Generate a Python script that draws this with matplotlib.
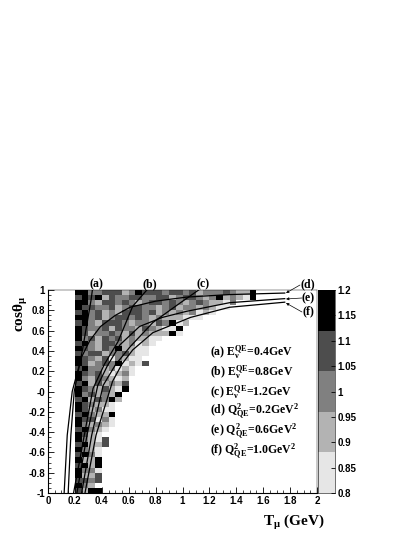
import matplotlib
matplotlib.use('Agg')
import matplotlib.pyplot as plt
from matplotlib.colors import ListedColormap, BoundaryNorm
import numpy as np

plt.rcParams['font.family'] = ['Liberation Sans', 'DejaVu Sans']
plt.rcParams['mathtext.fontset'] = 'custom'
plt.rcParams['mathtext.rm'] = 'Liberation Serif:bold'
plt.rcParams['mathtext.it'] = 'Liberation Serif:bold'

# cell levels, one string per cosine row (top row first), T bins start at 0.2, width 0.05
# 0 = lightest ... 4 = black
rows = [
    "442233312433323323122232114",
    "343413223322331233212412104",
    "442133232123323212321102",
    "43322312332212312212100",
    "342312133323121212010",
    "4423123323212111000",
    "34213332122132401",
    "4322313221321004",
    "4312232131211140",
    "4231323121100",
    "342133212010",
    "43213241100",
    "32331223100",
    "4321302100",
    "43123240103",
    "342212010",
    "432310120",
    "42132101",
    "34131213",
    "43213104",
    "4231214",
    "3413241",
    "432110",
    "431200",
    "342114",
    "433020",
    "421210",
    "34210",
    "4310",
    "42103",
    "34113",
    "4210",
    "3420",
    "4114",
    "3414",
    "4220",
    "4113",
    "3323",
    "421",
    "3144",
]

levels = [0.8, 0.88, 0.96, 1.04, 1.12, 1.2]
greys = ['#e6e6e6', '#b3b3b3', '#808080', '#4d4d4d', '#000000']
x_ticks = [0, 0.2, 0.4, 0.6, 0.8, 1, 1.2, 1.4, 1.6, 1.8, 2]
y_ticks = [-1, -0.8, -0.6, -0.4, -0.2, 0, 0.2, 0.4, 0.6, 0.8, 1]
y_labels = ['-1', '-0.8', '-0.6', '-0.4', '-0.2', '-0', '0.2', '0.4', '0.6', '0.8', '1']
cb_ticks = [0.8, 0.85, 0.9, 0.95, 1, 1.05, 1.1, 1.15, 1.2]
cb_labels = ['0.8', '0.85', '0.9', '0.95', '1', '1.05', '1.1', '1.15', '1.2']

# curve points (T, cos)
curve_a = ([0.15, 0.17, 0.195, 0.225, 0.255, 0.32, 0.33], [-1, -0.43, 0.0, 0.2, 0.4, 0.9, 1])
curve_b = ([0.19, 0.23, 0.27, 0.335, 0.42, 0.52, 0.63, 0.735], [-1, -0.72, -0.43, 0.03, 0.27, 0.49, 0.84, 1])
curve_c = ([0.25, 0.325, 0.41, 0.5, 0.61, 0.78, 0.98, 1.12], [-1, -0.43, 0.06, 0.26, 0.44, 0.68, 0.87, 1])
curve_d = ([0.12, 0.143, 0.18, 0.21, 0.25, 0.31, 0.39, 0.5, 0.61, 0.8, 1.03, 1.35, 1.76],
           [-1, -0.43, 0.0, 0.15, 0.34, 0.5, 0.64, 0.75, 0.83, 0.89, 0.93, 0.955, 0.97])
curve_e = ([0.215, 0.29, 0.37, 0.44, 0.535, 0.68, 0.85, 1.03, 1.35, 1.76],
           [-1, -0.43, 0.06, 0.25, 0.46, 0.64, 0.73, 0.79, 0.875, 0.915])
curve_f = ([0.275, 0.357, 0.48, 0.55, 0.63, 0.78, 1.06, 1.35, 1.76],
           [-1, -0.43, 0.1, 0.27, 0.41, 0.58, 0.73, 0.83, 0.88])
curves = [curve_a, curve_b, curve_c, curve_d, curve_e, curve_f]

W, H = 415, 537
fig = plt.figure(figsize=(W / 100, H / 100), dpi=100)
ax = fig.add_axes([48 / W, 1 - 493 / H, 269 / W, 203 / H])

x_edges = np.linspace(0, 2, 41)
y_edges = np.linspace(-1, 1, 41)
z = np.full((40, 40), np.nan)
for i, r in enumerate(rows):
    for j, c in enumerate(r):
        z[39 - i, 4 + j] = 0.84 + 0.08 * int(c)
cmap = ListedColormap(greys)
norm = BoundaryNorm(levels, cmap.N)
ax.pcolormesh(x_edges, y_edges, np.ma.masked_invalid(z), cmap=cmap, norm=norm)

for cx, cy in curves:
    ax.plot(cx, cy, color='k', lw=0.9)

ax.set_xlim(0, 2)
ax.set_ylim(-1, 1)
ax.set_xticks(x_ticks)
ax.set_xticklabels([str(t) for t in x_ticks], fontsize=7, fontweight='bold')
ax.set_yticks(y_ticks)
ax.set_yticklabels(y_labels, fontsize=7, fontweight='bold')
ax.set_xticks(np.arange(0, 2.01, 0.05), minor=True)
ax.set_yticks(np.arange(-1, 1.01, 0.05), minor=True)
ax.tick_params(which='major', direction='in', length=4.5, width=0.6, pad=2)
ax.tick_params(which='minor', direction='in', length=2.2, width=0.5)
for s in ['top', 'right']:
    ax.spines[s].set_linewidth(0.3)
ax.spines['left'].set_linewidth(0.8)
ax.spines['bottom'].set_linewidth(0.8)

serif = ['Liberation Serif', 'DejaVu Serif']
fig.text(12 / W, 1 - 314 / H, r'cos$\mathrm{\theta_{\mu}}$', rotation=90, fontsize=11, family=serif,
         fontweight='bold', va='center', ha='left')
fig.text(263 / W, 1 - 522 / H, r'T$_{\mathrm{\mu}}$ (GeV)', fontsize=11, family=serif, fontweight='bold', va='center')

for lab, px in zip(['(a)', '(b)', '(c)'], [96, 150, 203]):
    fig.text(px / W, 1 - 284 / H, lab, fontsize=8.5, family=serif, fontweight='bold', ha='center', va='center')
for lab, py, tip_y, tail_x, tail_y in [('(d)', 284, 293, 300, 285),
                                       ('(e)', 298, 299, 302, 298),
                                       ('(f)', 311, 303, 302, 312)]:
    fig.text(308 / W, 1 - py / H, lab, fontsize=8.5, family=serif, fontweight='bold', ha='center', va='center')
    ax.annotate('', xy=(286, H - tip_y), xytext=(tail_x, H - tail_y), xycoords='figure pixels',
                textcoords='figure pixels', annotation_clip=False,
                arrowprops=dict(arrowstyle='-|>', lw=0.5, color='k', mutation_scale=4,
                                shrinkA=0, shrinkB=0))

legend_rows = [
    (r'(a) E$_{\mathrm{\nu}}^{\mathrm{QE}}$=0.4GeV', 352),
    (r'(b) E$_{\mathrm{\nu}}^{\mathrm{QE}}$=0.8GeV', 372),
    (r'(c) E$_{\mathrm{\nu}}^{\mathrm{QE}}$=1.2GeV', 392),
    (r'(d) Q$_{\mathrm{QE}}^{2}$=0.2GeV$^{2}$', 411),
    (r'(e) Q$_{\mathrm{QE}}^{2}$=0.6GeV$^{2}$', 431),
    (r'(f) Q$_{\mathrm{QE}}^{2}$=1.0GeV$^{2}$', 451),
]
for lab, py in legend_rows:
    fig.text(210 / W, 1 - py / H, lab, fontsize=8.5, family=serif, fontweight='bold', va='center')

cax = fig.add_axes([318 / W, 1 - 493 / H, 17 / W, 203 / H])
cax.pcolormesh([0, 1], levels, np.array(levels[:-1])[:, None] + 0.04, cmap=cmap, norm=norm)
cax.set_xticks([])
cax.yaxis.tick_right()
cax.set_ylim(0.8, 1.2)
cax.set_yticks(cb_ticks)
cax.set_yticklabels(cb_labels, fontsize=7, fontweight='bold')
cax.tick_params(axis='y', direction='in', length=3, width=0.6, pad=2)
for s in cax.spines.values():
    s.set_linewidth(0.4)

fig.savefig('out.png', dpi=100)
